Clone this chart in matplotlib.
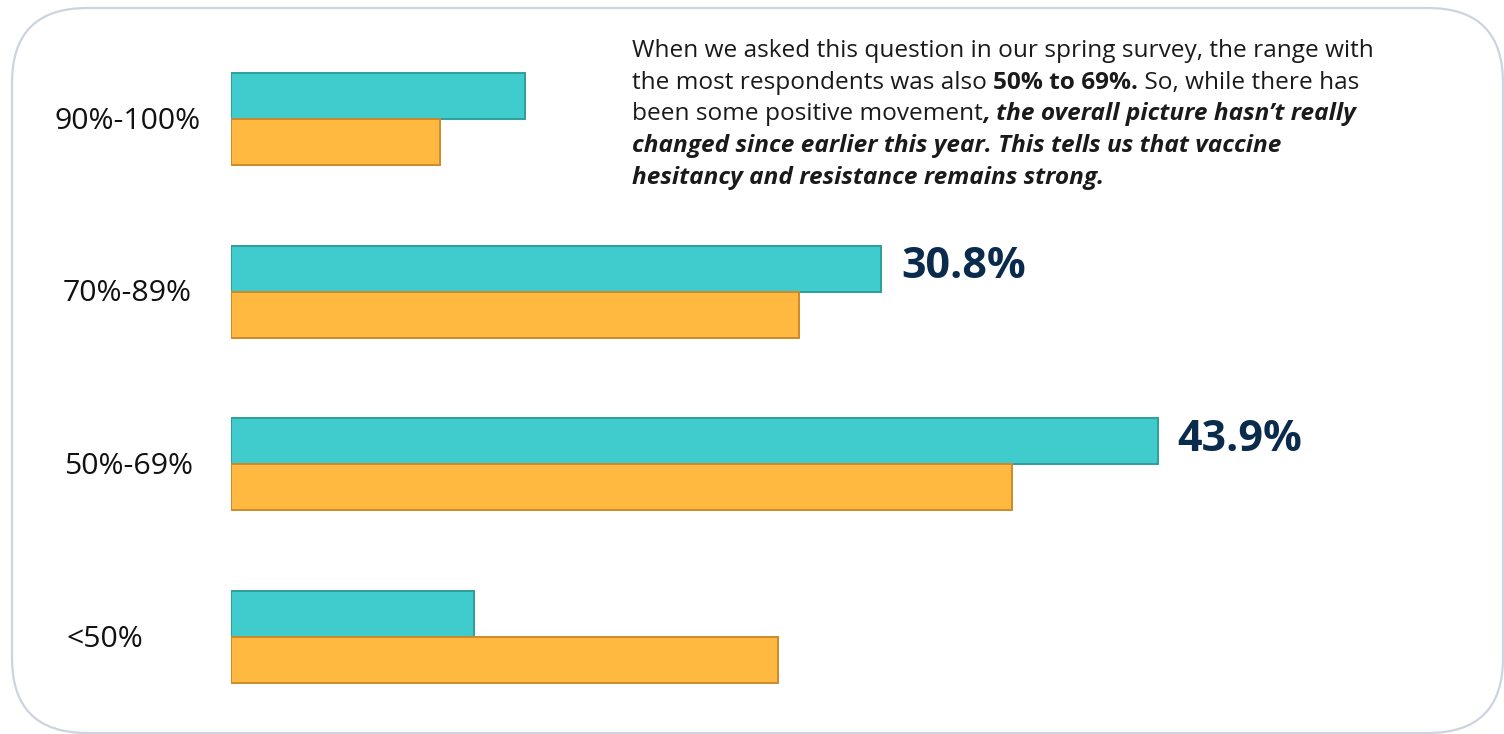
import matplotlib
matplotlib.use("Agg")
import matplotlib.pyplot as plt
from matplotlib.patches import FancyBboxPatch
from matplotlib.transforms import IdentityTransform, blended_transform_factory

categories = ["90%-100%", "70%-89%", "50%-69%", "<50%"]
current = [13.9, 30.8, 43.9, 11.5]   # teal (this survey)
spring = [9.9, 26.9, 37.0, 25.9]     # orange (spring survey)
value_labels = {1: "30.8%", 2: "43.9%"}

W, H, DPI = 1504, 734, 100
FONT = "Open Sans"
plt.rcParams['font.family'] = [FONT, 'DejaVu Sans']

fig = plt.figure(figsize=(W / DPI, H / DPI), dpi=DPI)
fig.patch.set_facecolor("white")

# rounded frame
frame = FancyBboxPatch((12, 1), 1491, 725, boxstyle="round,pad=0,rounding_size=75",
                       transform=IdentityTransform(), fill=False,
                       edgecolor="#CDD3DF", linewidth=1.6)
fig.patches.append(frame)

unit = 172.7  # px per category
px_per_pct = 21.12
ax = fig.add_axes([231 / W, 0, 1 - 231 / W, 1])
ax.set_xlim(0, (W - 231) / px_per_pct)
top = -119 / unit
ax.set_ylim(top + H / unit, top)
ax.axis("off")

bh = 46 / unit
ys = list(range(len(categories)))
ax.barh([y - bh / 2 for y in ys], current, height=bh, color="#40CCCC",
        edgecolor="#2E9E9A", linewidth=1.4)
ax.barh([y + bh / 2 for y in ys], spring, height=bh, color="#FFB941",
        edgecolor="#CC8A2C", linewidth=1.4)

# category labels
lab_x = [55, 63, 64, 67]
tr = blended_transform_factory(fig.transFigure, ax.transData)
for y, c, lx in zip(ys, categories, lab_x):
    ax.text(lx / W, y + 0.012, c, transform=tr, fontsize=21.8, color="#111111",
            ha="left", va="center")

# value labels
for i, txt in value_labels.items():
    ax.annotate(txt, xy=(current[i], i - bh / 2), xytext=(14, 1.5),
                textcoords="offset points", fontsize=31, fontweight="bold",
                color="#0A2B4C", ha="left", va="center")

# annotation paragraph with mixed styles
lines = [
    [("When we asked this question in our spring survey, the range with", "normal", "normal")],
    [("the most respondents was also ", "normal", "normal"), ("50% to 69%.", "bold", "normal"),
     (" So, while there has", "normal", "normal")],
    [("been some positive movement", "normal", "normal"),
     (", the overall picture hasn\u2019t really", "bold", "italic")],
    [("changed since earlier this year. This tells us that vaccine", "bold", "italic")],
    [("hesitancy and resistance remains strong.", "bold", "italic")],
]
fig.canvas.draw()
renderer = fig.canvas.get_renderer()
x0 = 632
base0 = 57
lh = 31.7
fs = 17.6
for li, pieces in enumerate(lines):
    x = x0
    yb = H - (base0 + li * lh)
    for txt, wt, st in pieces:
        t = fig.text(x / W, yb / H, txt, fontsize=fs, fontweight=wt, fontstyle=st,
                     color="#1A1A1A", ha="left", va="baseline")
        bb = t.get_window_extent(renderer)
        x = bb.x1

fig.savefig("out.png", dpi=DPI, facecolor="white")
